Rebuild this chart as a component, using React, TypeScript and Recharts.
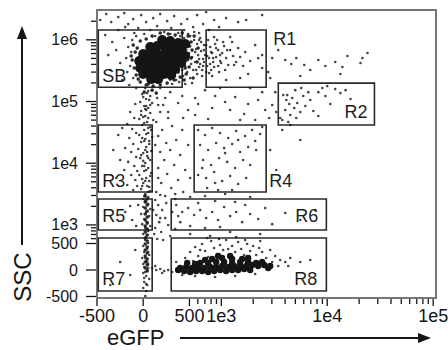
import React from 'react';
import { ScatterChart, Scatter, XAxis, YAxis, ReferenceArea } from 'recharts';

// biexponential-ish display transform (linear around zero, log above 500)
const bx = (v: number) => (v <= 500 ? 46 + v * 0.0925 : 92.25 + 106 * Math.log10(v / 500));
const by = (v: number) => (v <= 500 ? 28 + v * 0.053 : 54.5 + 61.7 * Math.log10(v / 500));

const FONT = '"Liberation Sans", Arial, sans-serif';
const INK = '#151515';

// tick values: [value, label] — label '' means minor tick
const xTicks: [number, string][] = [
  [-500, '-500'], [0, '0'], [500, '500'], [600, ''], [700, ''], [800, ''], [900, ''], [1000, '1e3'],
  [2000, ''], [3000, ''], [4000, ''], [5000, ''], [6000, ''], [7000, ''], [8000, ''], [9000, ''], [10000, '1e4'],
  [20000, ''], [30000, ''], [40000, ''], [50000, ''], [60000, ''], [70000, ''], [80000, ''], [90000, ''], [100000, '1e5'],
];
const yTicks: [number, string][] = [
  [-500, '-500'], [0, '0'], [500, '500'], [600, ''], [700, ''], [800, ''], [900, ''], [1000, '1e3'],
  [2000, ''], [3000, ''], [4000, ''], [5000, ''], [6000, ''], [7000, ''], [8000, ''], [9000, ''], [10000, '1e4'],
  [20000, ''], [30000, ''], [40000, ''], [50000, ''], [60000, ''], [70000, ''], [80000, ''], [90000, ''], [100000, '1e5'],
  [200000, ''], [300000, ''], [400000, ''], [500000, ''], [600000, ''], [700000, ''], [800000, ''], [900000, ''], [1000000, '1e6'],
  [2000000, ''],
];

// gates: name, eGFP from/to, SSC from/to
const gates: [string, number, number, number, number][] = [
  ['SB', -486, 422, 170000, 1440000],
  ['R1', 719, 2650, 170000, 1440000],
  ['R2', 3450, 27900, 41600, 199000],
  ['R3', -486, 97, 3410, 41600],
  ['R4', 554, 2650, 3410, 41600],
  ['R5', -486, 97, 827, 2630],
  ['R6', 303, 9810, 827, 2630],
  ['R7', -486, 97, -396, 614],
  ['R8', 303, 9810, -396, 614],
];

// events [eGFP, SSC]
const sbCore = [
  [205, 991000], [292, 955000], [378, 886000], [454, 854000], [76, 763000], [151, 792000], [238, 735000],
  [324, 708000], [411, 682000], [0, 588000], [76, 610000], [151, 588000], [227, 566000], [303, 566000],
  [378, 526000], [454, 546000], [-43, 453000], [32, 470000], [108, 470000], [184, 453000], [259, 436000],
  [335, 436000], [411, 420000], [-32, 349000], [43, 362000], [119, 362000], [195, 349000], [270, 349000],
  [346, 336000], [0, 279000], [76, 279000], [151, 269000], [227, 279000], [303, 269000], [86, 231000],
  [162, 231000],
];
const sbRing = [
  [-108, 822000], [-86, 633000], [-119, 470000], [-97, 349000], [-76, 269000], [-32, 207000], [32, 185000],
  [108, 178000], [184, 185000], [259, 199000], [335, 223000], [400, 249000], [465, 279000], [497, 362000],
  [519, 506000], [530, 682000], [519, 920000], [486, 1150000], [422, 1287000], [346, 1194000], [270, 1240000],
  [184, 1287000], [97, 1150000], [32, 1029000], [-32, 955000], [-65, 735000], [-130, 546000], [-54, 231000],
  [292, 231000], [378, 300000], [454, 349000], [497, 792000], [554, 1150000], [604, 735000], [591, 436000],
  [542, 240000], [443, 223000], [54, 192000], [97, 153000], [141, 137000], [11, 142000],
];
const sbLeft = [
  [-411, 1194000], [-335, 920000], [-270, 1439000], [-205, 1068000], [-162, 763000], [-130, 633000],
  [-184, 506000], [-249, 420000], [-292, 682000], [-141, 376000], [-173, 300000], [-108, 240000],
  [-227, 223000], [-357, 324000], [-119, 991000], [-97, 1287000], [-378, 566000], [-195, 1609000],
  [-151, 185000], [-76, 165000],
];
const sbAbove = [
  [-465, 2090000], [-400, 2614000], [-346, 1939000], [-270, 2337000], [-205, 2713000], [-162, 1800000],
  [-108, 2169000], [-54, 1550000], [-22, 2518000], [32, 1939000], [76, 1439000], [108, 2251000],
  [151, 1670000], [184, 2614000], [227, 1336000], [259, 2013000], [303, 1550000], [335, 2426000],
  [378, 1287000], [411, 1800000], [443, 1439000], [476, 2169000], [508, 1150000], [542, 1609000],
  [591, 2518000], [617, 1287000], [673, 1800000], [719, 2816000], [767, 1439000], [855, 2090000],
  [953, 1609000], [1110, 2251000], [1441, 1939000], [1716, 2090000], [2430, 2518000], [11, 1240000],
  [-76, 1150000], [130, 1150000], [292, 1240000],
];
const sbRight = [
  [443, 1068000], [476, 920000], [508, 792000], [465, 682000], [497, 610000], [530, 526000], [486, 470000],
  [519, 405000], [454, 376000], [554, 991000], [578, 708000], [604, 566000], [566, 436000], [617, 362000],
  [542, 324000], [476, 300000], [432, 259000], [508, 240000], [591, 854000], [631, 1068000], [645, 657000],
  [673, 488000], [631, 405000], [659, 324000], [688, 822000], [703, 566000], [591, 279000], [530, 199000],
  [454, 192000], [389, 207000], [357, 223000], [313, 192000], [673, 376000], [400, 1150000], [486, 1240000],
  [554, 1336000], [422, 324000], [465, 453000], [617, 488000], [566, 633000],
  [645, 920000], [688, 682000], [735, 546000], [688, 436000], [659, 259000], [719, 822000], [801, 633000],
  [837, 506000], [784, 405000], [893, 735000], [974, 566000], [933, 376000], [1040, 920000], [1135, 682000],
  [855, 1108000], [578, 324000], [617, 991000], [719, 300000], [996, 420000], [1321, 390000],
];
const r1Pts = [
  [751, 991000], [784, 763000], [819, 610000], [767, 506000], [837, 436000], [735, 376000], [801, 324000],
  [874, 854000], [933, 682000], [893, 526000], [974, 453000], [855, 362000], [1018, 610000], [1063, 792000],
  [1110, 506000], [1160, 390000], [953, 300000], [1086, 324000], [1211, 682000], [1293, 546000],
  [1380, 436000], [1265, 920000], [1441, 735000], [1506, 526000], [1607, 376000], [1679, 633000],
  [1792, 279000], [1872, 453000], [2087, 822000], [2228, 506000], [2430, 566000], [2430, 349000],
  [1506, 240000], [1110, 223000], [819, 259000], [767, 289000], [913, 991000], [1211, 1108000],
];
const r1Right = [
  [3023, 506000], [3446, 682000], [4014, 470000], [4574, 405000], [5100, 506000], [6070, 390000],
  [8240, 470000], [9598, 376000], [11900, 436000], [13900, 362000], [15500, 546000], [20600, 420000],
  [24000, 610000], [13300, 279000], [6918, 324000], [5564, 259000], [2894, 240000], [3228, 142000],
  [4192, 127000], [2771, 300000], [21500, 506000],
];
const r2Pts = [
  [3843, 127000], [4102, 106000], [4379, 91000], [4674, 114000], [4014, 72800], [4475, 60400],
  [4882, 78400], [5212, 94500], [5564, 67500], [5939, 123000], [5100, 54000], [6203, 84500],
  [6918, 106000], [7387, 70100], [8240, 142000], [8989, 165000], [9598, 123000], [10700, 91000],
  [11900, 159000], [13300, 137000], [14900, 153000], [3760, 50100], [4285, 46500], [8240, 58200],
  [4990, 153000], [6624, 142000], [10000, 178000], [16600, 110000], [5686, 165000],
];
const midPts = [
  [292, 142000], [422, 123000], [566, 114000], [703, 153000], [874, 123000], [1086, 98100], [1350, 118000],
  [1792, 91000], [2228, 106000], [2596, 72800], [3023, 87700], [3299, 67500], [2830, 54000], [1643, 62700],
  [1211, 72800], [819, 78400], [604, 91000], [486, 72800], [378, 94500], [270, 67500], [184, 165000],
  [238, 114000], [162, 87700], [2087, 50100], [1506, 50100], [3600, 54000], [2430, 142000], [1872, 165000],
  [974, 165000], [566, 60400], [751, 52000], [432, 54000], [2894, 16400], [3760, 34500], [4475, 41600],
  [3299, 7760], [5564, 23800], [184, 3050], [346, 3170], [508, 2830], [703, 2940], [1086, 3170], [1872, 2830],
];
const streamPts = [
  [22, 165000], [54, 148000], [-11, 132000], [76, 123000], [32, 110000], [-32, 98100], [97, 94500],
  [11, 84500], [54, 78400], [-22, 70100], [76, 65100], [22, 58200], [-43, 52000], [108, 50100],
  [43, 46500], [-11, 41600], [76, 38600], [11, 34500], [54, 30900], [-43, 28600], [97, 26600],
  [22, 24700], [-22, 22100], [65, 20500], [32, 18300], [-54, 17000], [86, 15800], [0, 14600],
  [43, 13100], [-32, 12100], [76, 11300], [22, 10100], [-11, 9010], [54, 8360], [11, 7480], [86, 6940],
  [-43, 6440], [32, 5760], [65, 5150], [0, 4780], [43, 4270], [-22, 3820], [76, 3540], [22, 3170],
  [54, 2830], [0, 2630], [32, 2350], [11, 2940], [65, 4120], [-11, 5550], [32, 7760], [0, 10900],
  [43, 15200], [11, 22900], [54, 37200], [0, 56100], [32, 72800], [65, 106000],
  [43, 137000], [0, 118000], [76, 87700], [22, 75500], [-22, 60400], [54, 54000], [11, 44800], [86, 34500],
  [32, 29700], [-11, 25600], [65, 22900], [22, 16400], [-22, 13600], [54, 12100], [11, 9010], [76, 6200],
  [22, 5150], [-11, 4270], [54, 3410], [32, 84500],
  [22, 2440], [54, 2180], [0, 1950], [76, 1810], [32, 1620], [-22, 1500], [65, 1390], [11, 1250],
  [43, 1110], [-11, 1030], [76, 960], [22, 891], [54, 797], [0, 712], [32, 637],
  [22, 570], [54, 509], [0, 453], [43, 396], [11, 340], [65, 283], [-11, 226], [32, 170], [54, 113],
  [11, 57], [43, 0], [0, -57], [32, -113], [65, -170], [11, -226], [43, -283], [0, -340], [32, -396],
  [54, 340], [22, 226], [43, 151], [0, 113], [22, -38], [54, 38], [11, -151], [32, -264], [22, -491],
];
const streamCore = [
  [22, 2940], [43, 2630], [22, 2350], [43, 2100], [22, 1880], [43, 1680], [22, 1500], [43, 1340], [22, 1200],
  [43, 1070], [22, 960], [43, 858], [22, 767], [43, 686], [22, 614], [43, 549], [22, 491], [43, 434],
  [22, 377], [43, 321], [22, 264], [43, 208], [22, 151], [43, 94], [22, 38], [43, -19],
];
const r3Left = [
  [-86, 91000], [-141, 67500], [-97, 54000], [-173, 43200], [-119, 35800], [-76, 30900], [-151, 25600],
  [-108, 20500], [-195, 17600], [-130, 15200], [-76, 12600], [-162, 10500], [-97, 9010], [-205, 7760],
  [-130, 6440], [-86, 5340], [-173, 4430], [-108, 3680], [-270, 28600], [-324, 16400], [-249, 11300],
  [-292, 5760], [-227, 37200], [-65, 7480], [-65, 4270],
  [-195, 1620], [-119, 1200], [-54, 2100], [-76, 960], [-141, 2025],
  [-249, 151], [-141, -94], [-357, -283], [-86, 377],
];
const streamRight = [
  [151, 114000], [216, 87700], [184, 67500], [270, 54000], [141, 46500], [313, 40100], [205, 34500],
  [162, 27600], [357, 23800], [249, 21300], [292, 16400], [184, 15200], [400, 13600], [227, 11300],
  [335, 9350], [162, 8360], [454, 7760], [259, 6680], [378, 5340], [195, 4780], [303, 3960], [141, 3410],
  [432, 3410], [238, 2940], [346, 2630], [486, 19700], [508, 5760], [130, 19700], [162, 5760], [422, 34500],
  [130, 2530], [162, 2100], [205, 1740], [141, 1450], [238, 1290], [173, 1110], [270, 996], [130, 891],
  [195, 767], [292, 661], [151, 591], [249, 2260], [313, 1620], [216, 570], [119, 712], [346, 858],
  [184, 1290], [108, 1740],
];
const r4Pts = [
  [604, 34500], [703, 28600], [819, 37200], [974, 30900], [1160, 25600], [1380, 33200], [1679, 27600],
  [1955, 34500], [2327, 29700], [631, 19700], [751, 16400], [893, 21300], [1063, 17600], [1265, 20500],
  [1506, 15200], [1792, 18300], [2133, 16400], [673, 11300], [801, 9350], [953, 12100], [1135, 10500],
  [1350, 8360], [1607, 11300], [1872, 9350], [604, 6440], [719, 5760], [855, 7200], [1018, 5150],
  [1211, 6200], [1441, 4600], [1716, 5760], [735, 3960], [933, 3680], [1265, 3680], [659, 8360],
  [1086, 14600], [1441, 23800], [874, 4780], [2087, 22900], [2430, 38600],
];
const r6Pts = [
  [357, 2100], [422, 1620], [486, 1880], [554, 1450], [631, 1740], [719, 1290], [819, 1620], [933, 1200],
  [1063, 1950], [1211, 1390], [1380, 1620], [1573, 1110], [1872, 1500], [2228, 1250], [2596, 1880],
  [3023, 1030], [4014, 1560], [5564, 1200], [7716, 1740], [400, 1110], [508, 960], [703, 891], [974, 925],
  [1350, 2350], [604, 2260], [1679, 2100], [378, 1390], [874, 2440],
  [508, 712], [784, 661], [1211, 767], [2327, 712],
];
const bridgePts = [
  [97, 38], [141, 0], [184, 19], [227, -19], [270, 0], [313, -38], [130, 75], [205, -57],
];
const r8Core = [
  [400, 38], [465, 57], [530, 38], [604, 57], [688, 38], [784, 57], [893, 57], [1018, 75], [1160, 57],
  [1321, 75], [1506, 75], [1716, 75], [1955, 94], [2228, 75], [2540, 94], [443, -19], [508, -38],
  [578, -19], [659, -19], [751, -38], [855, -19], [974, 0], [1110, -19], [1265, 0], [1441, 0], [1643, 19],
  [1872, 0], [631, 132], [751, 132], [893, 151], [1063, 151], [1265, 132], [1506, 151], [1792, 151],
  [2133, 132], [2430, 151], [819, 208], [1018, 226], [1265, 208], [1573, 208],
  [703, 189], [933, 264], [1211, 264], [1792, 226], [566, 113], [2894, 75], [378, 0], [476, 132], [2771, 38],
];
const r8Pts = [
  [454, 226], [508, 340], [566, 434], [604, 264], [659, 491], [703, 359], [751, 245], [801, 549], [855, 415],
  [913, 302], [974, 472], [1040, 377], [1110, 570], [1185, 283], [1265, 453], [1350, 340], [1441, 528],
  [1539, 396], [1643, 283], [1753, 491], [1872, 359], [1998, 453], [2133, 283], [2277, 415], [2430, 340],
  [2653, 226], [2894, 377], [3228, 264], [3600, 189], [4014, 151], [4475, 226], [5564, 151], [6918, 189],
  [542, 170], [735, 614], [953, 591], [1380, 637], [631, 377], [1160, 396], [1679, 570], [2327, 549],
  [3023, 151], [3446, 75], [4285, 75], [357, 151], [422, -94], [566, -113], [874, -132], [1350, -113],
  [2087, -75],
];

// label placement for each gate (layout only)
const labelPlace: Record<string, { ax: 'L' | 'R'; dx: number; ay: 'T' | 'B'; dy: number; anchor: 'start' | 'end' }> = {
  SB: { ax: 'L', dx: 4, ay: 'B', dy: -5, anchor: 'start' },
  R1: { ax: 'R', dx: 7, ay: 'T', dy: 15, anchor: 'start' },
  R2: { ax: 'R', dx: -7, ay: 'B', dy: -7, anchor: 'end' },
  R3: { ax: 'L', dx: 4, ay: 'B', dy: -5, anchor: 'start' },
  R4: { ax: 'R', dx: 3, ay: 'B', dy: -5, anchor: 'start' },
  R5: { ax: 'L', dx: 4, ay: 'B', dy: -8, anchor: 'start' },
  R6: { ax: 'R', dx: -8, ay: 'B', dy: -8, anchor: 'end' },
  R7: { ax: 'L', dx: 4, ay: 'B', dy: -6, anchor: 'start' },
  R8: { ax: 'R', dx: -9, ay: 'B', dy: -6, anchor: 'end' },
};

const toPts = (arr: number[][]) => arr.map(([e, s]) => ({ x: bx(e), y: by(s) }));
const dot = (r: number, opacity = 0.8) => (p: any) => (
  <circle cx={p.cx} cy={p.cy} r={r} fill={INK} fillOpacity={opacity} />
);

const X_DOMAIN: [number, number] = [bx(-500), 339];
const Y_DOMAIN: [number, number] = [0, 288];

const XTick = (props: any) => {
  const t = xTicks[props.index];
  if (!t) return null;
  const major = t[1] !== '' || t[0] === -500;
  return (
    <g>
      <line x1={props.x} y1={props.y + 1} x2={props.x} y2={props.y + (major ? 8 : 6)} stroke={INK} strokeWidth={1.3} />
      {t[1] && (
        <text x={props.x} y={props.y + 24} textAnchor="middle" fontSize={18} fontFamily={FONT} fill={INK}>
          {t[1]}
        </text>
      )}
    </g>
  );
};

const YTick = (props: any) => {
  const t = yTicks[props.index];
  if (!t) return null;
  const major = t[1] !== '';
  return (
    <g>
      <line x1={props.x - (major ? 11 : 6)} y1={props.y} x2={props.x - 1} y2={props.y} stroke={INK} strokeWidth={1.3} />
      {t[1] && (
        <text x={props.x - 19} y={props.y + 5.5} textAnchor="end" fontSize={16} fontFamily={FONT} fill={INK}>
          {t[1]}
        </text>
      )}
    </g>
  );
};

const gateLabel = (name: string) => (props: any) => {
  const vb = props.viewBox;
  if (!vb) return null;
  const pl = labelPlace[name];
  const x = (pl.ax === 'L' ? vb.x : vb.x + vb.width) + pl.dx;
  const y = (pl.ay === 'T' ? vb.y : vb.y + vb.height) + pl.dy;
  return (
    <text x={x} y={y} textAnchor={pl.anchor} fontSize={18} fontFamily={FONT} fill="#1e1e1e">
      {name}
    </text>
  );
};

const small = [sbLeft, sbAbove, sbRight, r1Pts, r1Right, r2Pts, midPts, streamPts, r3Left, streamRight, r4Pts, r6Pts, bridgePts, r8Pts];

export default function App() {
  return (
    <div style={{ position: 'absolute', left: 0, top: 0, width: 448, height: 350, background: '#fff' }}>
      <ScatterChart width={448} height={350} margin={{ top: 10, right: 12, bottom: 0, left: 0 }}>
        <XAxis
          type="number"
          dataKey="x"
          domain={X_DOMAIN}
          ticks={xTicks.map((t) => bx(t[0]))}
          interval={0}
          tick={<XTick />}
          tickSize={0}
          tickMargin={0}
          tickLine={false}
          axisLine={false}
          height={52}
          allowDataOverflow
          label={{
            content: () => (
              <g>
                <text x={107} y={345} fontSize={22} fontFamily={FONT} fill={INK}>eGFP</text>
                <line x1={180} y1={338} x2={421} y2={338} stroke={INK} strokeWidth={2} />
                <polygon points="431,338 418,333 418,343" fill={INK} />
              </g>
            ),
          }}
        />
        <YAxis
          type="number"
          dataKey="y"
          domain={Y_DOMAIN}
          ticks={yTicks.map((t) => by(t[0]))}
          interval={0}
          tick={<YTick />}
          tickSize={0}
          tickMargin={0}
          tickLine={false}
          axisLine={false}
          width={97}
          allowDataOverflow
          label={{
            content: () => (
              <g>
                <text transform="translate(30.5,277) rotate(-90)" textAnchor="middle" fontSize={24} fontFamily={FONT} fill={INK}>
                  SSC
                </text>
                <line x1={22} y1={245} x2={22} y2={36} stroke={INK} strokeWidth={2} />
                <polygon points="22,26 17,39 27,39" fill={INK} />
              </g>
            ),
          }}
        />
        <ReferenceArea x1={X_DOMAIN[0]} x2={X_DOMAIN[1]} y1={Y_DOMAIN[0]} y2={Y_DOMAIN[1]} fill="none" stroke="#777" strokeWidth={2} />
        {gates.map(([name, e1, e2, s1, s2]) => (
          <ReferenceArea
            key={name}
            x1={bx(e1)}
            x2={bx(e2)}
            y1={by(s1)}
            y2={by(s2)}
            fill="none"
            stroke="#2a2a2a"
            strokeWidth={1.6}
            label={{ content: gateLabel(name) }}
          />
        ))}
        {small.map((arr, i) => (
          <Scatter key={i} data={toPts(arr)} shape={dot(1.3)} isAnimationActive={false} />
        ))}
        <Scatter data={toPts(sbRing)} shape={dot(1.8, 0.9)} isAnimationActive={false} />
        <Scatter data={toPts(streamCore)} shape={dot(1.8, 0.9)} isAnimationActive={false} />
        <Scatter data={toPts(r8Core)} shape={dot(3.2, 1)} isAnimationActive={false} />
        <Scatter data={toPts(sbCore)} shape={dot(5, 1)} isAnimationActive={false} />
      </ScatterChart>
    </div>
  );
}
